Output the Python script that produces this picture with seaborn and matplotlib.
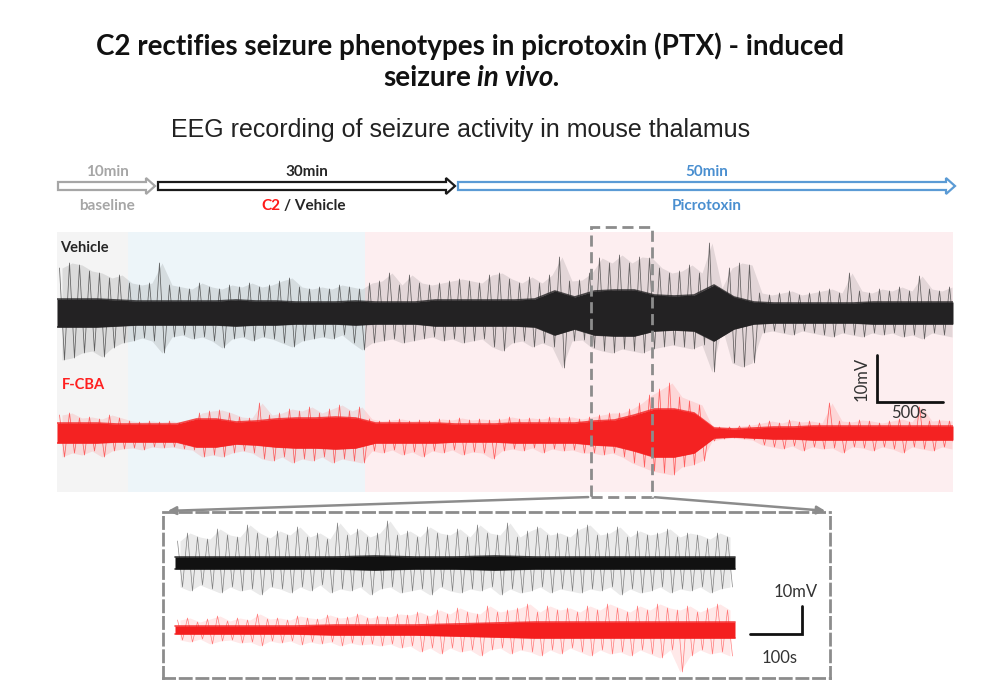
import numpy as np
import matplotlib
matplotlib.use('Agg')
import matplotlib.pyplot as plt
import seaborn as sns
from matplotlib.patches import FancyArrow, Rectangle, FancyArrowPatch

# ---- protocol timeline (minutes) ----
durations = [10, 30, 50]
dur_labels = ['10min', '30min', '50min']
phase_names = ['baseline', 'C2 / Vehicle', 'Picrotoxin']
shade_edges = [0, 7.1, 30.8, 89.6]

# ---- main EEG traces, amplitudes (trace units, 45 units = 10 mV) ----
# dense core half-width, 46 samples over the 89.6 min record
veh_core = [14, 14, 14, 13, 12, 12, 12, 12, 12, 13, 12, 12, 11, 11, 11, 12, 11, 11, 11, 13,
            13, 13, 13, 13, 14, 22, 16, 22, 23, 23, 18, 17, 18, 28, 16, 11, 10, 10, 10, 10,
            10, 11, 11, 11, 11, 11]
cba_core = [10, 10, 10, 9, 9, 9, 9, 14, 14, 11, 12, 14, 15, 15, 16, 15, 10, 10, 10, 10,
            9, 9, 9, 10, 10, 10, 10, 12, 13, 18, 24, 24, 20, 5, 4, 5, 6, 6, 7, 7,
            7, 7, 7, 7, 7, 7]
# spike peaks, one per minute
veh_up = [45, 50, 48, 42, 40, 35, 38, 30, 28, 30,
          50, 28, 26, 24, 30, 26, 24, 28, 26, 30,
          26, 28, 32, 35, 26, 24, 26, 24, 28, 26,
          24, 30, 32, 40, 28, 38, 30, 28, 30, 32,
          34, 32, 30, 38, 40, 34, 30, 36, 30, 38,
          56, 32, 33, 40, 55, 50, 58, 50, 56, 55,
          45, 40, 42, 48, 40, 70, 25, 45, 50, 48,
          20, 18, 20, 22, 18, 20, 22, 24, 20, 40,
          22, 20, 24, 22, 26, 22, 37, 24, 22, 26]
veh_down = [47, 45, 40, 38, 44, 35, 30, 28, 25, 28,
            40, 24, 22, 26, 24, 28, 35, 26, 24, 28,
            24, 26, 30, 34, 28, 26, 24, 26, 22, 30,
            37, 30, 28, 26, 30, 28, 26, 24, 28, 26,
            30, 28, 26, 34, 38, 30, 28, 34, 30, 34,
            55, 28, 27, 35, 38, 40, 36, 38, 40, 36,
            34, 32, 34, 36, 32, 59, 14, 50, 54, 50,
            20, 18, 20, 22, 18, 20, 22, 24, 20, 22,
            24, 20, 22, 20, 24, 22, 26, 20, 22, 24]
cba_up = [18, 20, 15, 16, 14, 18, 15, 12, 11, 12,
          11, 12, 10, 12, 20, 22, 23, 20, 16, 15,
          30, 18, 20, 24, 22, 26, 20, 24, 28, 22,
          26, 14, 12, 13, 14, 12, 13, 12, 14, 13,
          15, 13, 14, 13, 14, 16, 14, 15, 14, 16,
          15, 16, 14, 16, 18, 20, 20, 24, 30, 38,
          44, 50, 36, 32, 28, 7, 6, 6, 7, 8,
          10, 12, 10, 13, 11, 12, 10, 30, 12, 11,
          13, 12, 10, 12, 14, 11, 26, 12, 13, 12]
cba_down = [24, 20, 22, 18, 24, 18, 16, 15, 17, 14,
            15, 14, 16, 17, 24, 22, 24, 20, 18, 20,
            26, 28, 24, 30, 26, 28, 24, 30, 26, 28,
            30, 18, 20, 17, 22, 19, 24, 18, 20, 17,
            22, 19, 20, 26, 18, 16, 18, 15, 20, 16,
            18, 17, 20, 20, 22, 20, 24, 30, 34, 38,
            40, 42, 34, 32, 28, 8, 6, 5, 6, 7,
            12, 14, 16, 13, 18, 14, 16, 15, 20, 14,
            15, 18, 14, 16, 20, 14, 16, 18, 14, 16]
zoom_window = [53.4, 59.5]

# ---- expanded window (seconds), 22 units = 10 mV ----
ins_veh_core = [6, 6, 6, 6, 6, 7, 6, 6, 7, 6, 6, 6, 6, 6, 6]
ins_cba_core = [4, 4, 4, 4, 5, 5, 5, 6, 7, 8, 8, 8, 8, 8, 8]
ins_veh_up = [22, 30, 26, 24, 34, 28, 26, 38, 30, 25,
              32, 28, 36, 26, 30, 24, 40, 28, 34, 26,
              30, 42, 28, 32, 26, 36, 30, 28, 34, 26,
              38, 30, 28, 40, 26, 32, 36, 28, 30, 26,
              34, 38, 28, 30, 36, 26, 32, 28, 30, 34,
              26, 30, 28, 24, 30, 26]
ins_veh_down = [24, 28, 22, 26, 30, 24, 28, 26, 32, 24,
                26, 30, 24, 28, 22, 30, 26, 28, 24, 32,
                26, 24, 30, 28, 26, 32, 24, 28, 30, 26,
                28, 24, 32, 26, 30, 28, 24, 30, 26, 28,
                30, 26, 28, 24, 32, 26, 30, 28, 24, 30,
                26, 28, 24, 30, 26, 24]
ins_cba_up = [10, 12, 8, 11, 14, 9, 12, 10, 16, 11,
              12, 10, 14, 12, 11, 15, 12, 13, 16, 12,
              14, 13, 16, 15, 18, 14, 20, 16, 22, 18,
              16, 24, 18, 20, 22, 26, 18, 24, 20, 22,
              18, 24, 20, 26, 22, 18, 24, 20, 26, 22,
              20, 24, 18, 22, 26, 20]
ins_cba_down = [10, 12, 9, 14, 11, 10, 13, 12, 16, 11,
                13, 11, 15, 12, 14, 12, 16, 13, 15, 14,
                16, 14, 18, 16, 22, 18, 24, 18, 22, 20,
                26, 20, 18, 24, 20, 22, 26, 20, 24, 18,
                22, 26, 20, 24, 22, 26, 20, 24, 28, 20,
                42, 26, 20, 24, 22, 26]

core_t = np.linspace(0, 89.6, len(veh_core))
spike_t = np.arange(len(veh_up)) + 0.5
ins_core_s = np.linspace(0, 1120, len(ins_veh_core))
ins_spike_s = np.arange(len(ins_veh_up)) * 20 + 10

sns.set_theme(style='white')
plt.rcParams['font.family'] = ['Lato', 'DejaVu Sans']

W, H = 1000, 700
fig = plt.figure(figsize=(10, 7), dpi=100)


def px_box(x0, y0, x1, y1):
    return [x0 / W, 1 - y1 / H, (x1 - x0) / W, (y1 - y0) / H]


def draw_trace(ax, tc, core, ts, up, down, off, core_col, spike_col, half, lw=0.55):
    core = np.asarray(core)
    up = np.asarray(up)
    down = np.asarray(down)
    # faint haze where spikes are dense
    ax.fill_between(ts, off - down, off + up, color=spike_col, alpha=0.12, lw=0, zorder=1)
    xs = np.column_stack((ts - half, ts + half)).ravel()
    ys = np.column_stack((off + up, off - down)).ravel()
    sns.lineplot(x=xs, y=ys, sort=False, estimator=None, ax=ax,
                 color=spike_col, lw=lw, alpha=0.7, zorder=2)
    ax.fill_between(tc, off - core, off + core, color=core_col, lw=0, zorder=3)
    for sign in (1, -1):
        sns.lineplot(x=tc, y=off + sign * core, ax=ax, color=core_col, lw=1.2,
                     alpha=0.8, zorder=3)


# main panel
ax = fig.add_axes(px_box(57, 232, 953, 492))
ax.set_xlim(0, 89.6)
ax.set_ylim(-179, 81)
ax.axis('off')

for a, b, c in zip(shade_edges[:-1], shade_edges[1:], ['#f4f4f4', '#edf5f9', '#fdeef0']):
    ax.axvspan(a, b, color=c, lw=0, zorder=0)

draw_trace(ax, core_t, veh_core, spike_t, veh_up, veh_down, 0, '#232223', '#2b2b2b', 0.25)
draw_trace(ax, core_t, cba_core, spike_t, cba_up, cba_down, -120, '#f42222', '#ff2a2a', 0.25)

ax.text(0.3, 65, 'Vehicle', fontsize=10.5, fontweight='bold', color='#262626', va='center')
ax.text(0.5, -72, 'F-CBA', fontsize=10.5, fontweight='bold', color='#ff1f1f', va='center')

# timeline arrows
starts = np.cumsum([0] + durations[:-1])
tl_cols = ['#a6a6a6', '#1a1a1a', '#5b9bd5']
txt_cols = ['#a6a6a6', '#262626', '#4a8fd0']
for s, d, lab, name, ec, tc in zip(starts, durations, dur_labels, phase_names, tl_cols, txt_cols):
    ax.add_patch(FancyArrow(s + 0.1, 127, d - 0.3, 0, width=8, head_width=16, head_length=0.9,
                            length_includes_head=True, fc='white', ec=ec, lw=1.6,
                            clip_on=False, zorder=5))
    mid = s + d / 2
    ax.text(mid, 141, lab, ha='center', va='center', fontsize=11, fontweight='bold',
            color=tc, clip_on=False)
    if name == 'C2 / Vehicle':
        ax.text(mid - 2.6, 107, 'C2', ha='right', va='center', fontsize=11,
                fontweight='bold', color='#ff1a1a', clip_on=False)
        ax.text(mid - 2.3, 107, '/ Vehicle', ha='left', va='center', fontsize=11,
                fontweight='bold', color='#262626', clip_on=False)
    else:
        ax.text(mid, 107, name, ha='center', va='center', fontsize=11, fontweight='bold',
                color=tc, clip_on=False)

# zoomed window marker
ax.add_patch(Rectangle((zoom_window[0], -184), zoom_window[1] - zoom_window[0], 270,
                       fill=False, ls=(0, (4, 2)), ec='#8c8c8c', lw=2, clip_on=False, zorder=6))

# scale bar
ax.plot([82, 82, 88.6], [-42, -89, -89], color='#111111', lw=2, clip_on=False,
        solid_joinstyle='miter', zorder=6)
ax.text(80.5, -66, '10mV', rotation=90, ha='center', va='center', fontsize=12, color='#333333')
ax.text(85.2, -100, '500s', ha='center', va='center', fontsize=12, color='#333333')

# inset
axi = fig.add_axes(px_box(163, 512, 830, 678))
axi.set_xlim(-24, 1310)
axi.set_ylim(-115, 51)
axi.set_xticks([])
axi.set_yticks([])
axi.set_facecolor('white')
for sp in axi.spines.values():
    sp.set_linestyle((0, (4, 2)))
    sp.set_color('#8c8c8c')
    sp.set_linewidth(2)

draw_trace(axi, ins_core_s, ins_veh_core, ins_spike_s, ins_veh_up, ins_veh_down, 0,
           '#111111', '#555555', 5, lw=0.5)
draw_trace(axi, ins_core_s, ins_cba_core, ins_spike_s, ins_cba_up, ins_cba_down, -67,
           '#f41e1e', '#ff4a4a', 5, lw=0.5)
axi.plot([1150, 1254, 1254], [-71, -71, -43], color='#111111', lw=2, solid_joinstyle='miter')
axi.text(1242, -29, '10mV', ha='center', va='center', fontsize=12, color='#333333')
axi.text(1210, -95, '100s', ha='center', va='center', fontsize=12, color='#333333')

# overlay for titles and connectors (pixel coordinates)
ov = fig.add_axes([0, 0, 1, 1], zorder=10)
ov.set_xlim(0, W)
ov.set_ylim(H, 0)
ov.axis('off')
ov.patch.set_alpha(0)

for start, end in [((591, 497), (165, 511)), ((652, 497), (828, 511))]:
    ov.add_patch(FancyArrowPatch(start, end, arrowstyle='-|>', mutation_scale=12,
                                 color='#8c8c8c', lw=1.8))

ov.text(470, 46, 'C2 rectifies seizure phenotypes in picrotoxin (PTX) - induced',
        ha='center', va='center', fontsize=20, fontweight='bold', color='#111111')
ov.text(471, 78, 'seizure', ha='right', va='center', fontsize=20, fontweight='bold',
        color='#111111')
ov.text(477, 78, 'in vivo.', ha='left', va='center', fontsize=20, fontweight='bold',
        fontstyle='italic', color='#111111')
ov.text(461, 130, 'EEG recording of seizure activity in mouse thalamus', ha='center',
        va='center', fontsize=18, color='#222222', family=['Liberation Sans', 'DejaVu Sans'])

fig.savefig('out.png', dpi=100)
